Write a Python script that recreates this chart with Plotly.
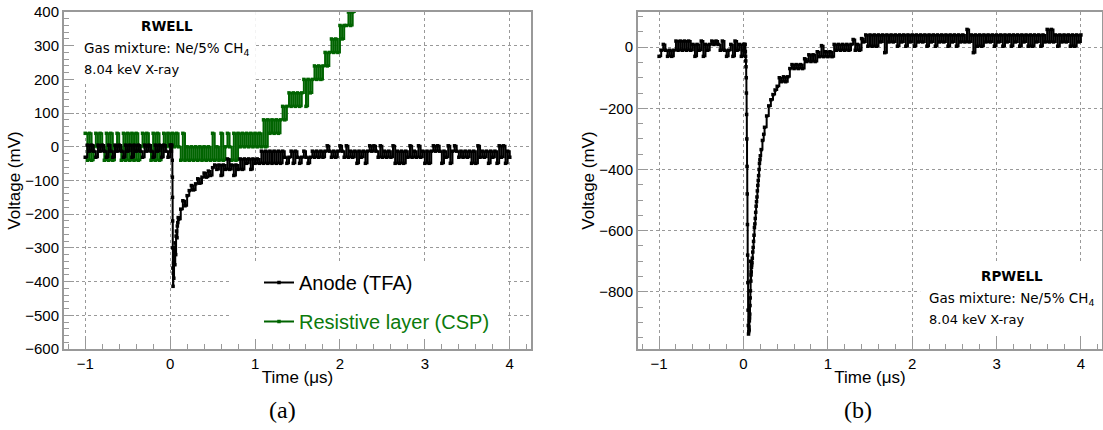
import plotly.graph_objects as go

# ---------------- data ----------------
# oscilloscope time base (µs), one sample every 25 ns shown
t_grid = [
    -1.0, -0.975, -0.95, -0.925, -0.9, -0.875, -0.85, -0.825, -0.8, -0.775,
    -0.75, -0.725, -0.7, -0.675, -0.65, -0.625, -0.6, -0.575, -0.55, -0.525,
    -0.5, -0.475, -0.45, -0.425, -0.4, -0.375, -0.35, -0.325, -0.3, -0.275,
    -0.25, -0.225, -0.2, -0.175, -0.15, -0.125, -0.1, -0.075, -0.05, -0.025,
    0.0, 0.025, 0.05, 0.075, 0.1, 0.125, 0.15, 0.175, 0.2, 0.225,
    0.25, 0.275, 0.3, 0.325, 0.35, 0.375, 0.4, 0.425, 0.45, 0.475,
    0.5, 0.525, 0.55, 0.575, 0.6, 0.625, 0.65, 0.675, 0.7, 0.725,
    0.75, 0.775, 0.8, 0.825, 0.85, 0.875, 0.9, 0.925, 0.95, 0.975,
    1.0, 1.025, 1.05, 1.075, 1.1, 1.125, 1.15, 1.175, 1.2, 1.225,
    1.25, 1.275, 1.3, 1.325, 1.35, 1.375, 1.4, 1.425, 1.45, 1.475,
    1.5, 1.525, 1.55, 1.575, 1.6, 1.625, 1.65, 1.675, 1.7, 1.725,
    1.75, 1.775, 1.8, 1.825, 1.85, 1.875, 1.9, 1.925, 1.95, 1.975,
    2.0, 2.025, 2.05, 2.075, 2.1, 2.125, 2.15, 2.175, 2.2, 2.225,
    2.25, 2.275, 2.3, 2.325, 2.35, 2.375, 2.4, 2.425, 2.45, 2.475,
    2.5, 2.525, 2.55, 2.575, 2.6, 2.625, 2.65, 2.675, 2.7, 2.725,
    2.75, 2.775, 2.8, 2.825, 2.85, 2.875, 2.9, 2.925, 2.95, 2.975,
    3.0, 3.025, 3.05, 3.075, 3.1, 3.125, 3.15, 3.175, 3.2, 3.225,
    3.25, 3.275, 3.3, 3.325, 3.35, 3.375, 3.4, 3.425, 3.45, 3.475,
    3.5, 3.525, 3.55, 3.575, 3.6, 3.625, 3.65, 3.675, 3.7, 3.725,
    3.75, 3.775, 3.8, 3.825, 3.85, 3.875, 3.9, 3.925, 3.95, 3.975,
    4.0,
]

# (a) RWELL - anode (TFA) voltage, mV, on t_grid
anode_a_v = [
    -31, 5, -13, 5, -13, -31, 5, -13, 5, -13,
    -31, 5, -13, -31, 5, -13, 5, -13, -31, 5,
    -13, 5, -31, 5, -13, 5, -13, -31, 5, -13,
    5, -13, -31, 5, -13, 5, -31, 5, -13, -31,
    5, -40, -300, -250, -215, -185, -160, -175, -145, -130,
    -115, -128, -110, -95, -108, -90, -78, -90, -72, -85,
    -62, -54, -67, -54, -85, -54, -67, -36, -67, -54,
    -85, -54, -67, -36, -67, -36, -49, -36, -67, -36,
    -49, -36, -49, -13, -49, -13, -49, -13, -49, -13,
    -49, -13, -49, -13, -31, -49, -31, -13, -49, -13,
    -31, -49, -31, -13, -31, -49, -31, -13, -31, -13,
    -31, -13, -31, -13, 3, -13, -31, -13, -31, -13,
    3, -13, -31, 3, -31, -13, -31, -13, -49, -13,
    -31, -13, -49, -13, 3, -13, 3, -13, -31, 3,
    -31, -13, -31, -13, -31, 3, -49, -13, -49, -13,
    -49, -13, -31, 3, -31, -13, -31, 3, -31, -13,
    -49, -13, -49, -13, 3, -13, 3, -13, -49, -13,
    -31, 3, -49, -13, 3, -13, -31, -13, -31, -13,
    -31, -13, -49, -13, -49, 3, -31, -13, -31, -13,
    -49, -13, -31, -13, -49, 3, -31, 3, -49, -13,
    -31,
]
# (a) extra samples around the fast anode pulse
anode_a_peak_t = [0.005, 0.01, 0.015, 0.02, 0.0265, 0.028, 0.0295, 0.031, 0.0325,
                  0.034, 0.037, 0.04, 0.043, 0.046, 0.055, 0.06, 0.065, 0.07,
                  0.08, 0.085, 0.09, 0.095]
anode_a_peak_v = [-13, 5, -13, 5, -90, -150, -220, -300, -360,
                  -414, -375, -345, -390, -330, -350, -285, -320, -265,
                  -270, -235, -225, -210]

# (a) RWELL - resistive layer (CSP) voltage, mV, on t_grid up to 2.175 µs
resist_a_v = [
    40, -40, 40, -40, 0, 40, 0, 40, 0, -40,
    40, -40, 40, -40, 0, 40, 0, -40, 40, -40,
    40, -40, 40, -40, 40, -40, 0, 40, 0, 40,
    0, -40, 40, -40, 40, -40, 0, 40, 0, 40,
    0, 40, 0, 40, 0, -40, 40, -40, 0, -40,
    0, -40, 0, -40, 0, -40, 0, -40, 0, -40,
    40, -40, 0, -40, 40, -40, 0, 40, 0, -40,
    40, -40, 40, 0, 40, 0, 40, 0, 40, 0,
    40, 0, 40, 0, 80, 0, 80, 40, 80, 40,
    80, 40, 80, 120, 80, 120, 160, 120, 160, 120,
    160, 120, 160, 200, 120, 200, 160, 200, 240, 200,
    240, 200, 240, 280, 240, 280, 320, 280, 320, 280,
    360, 320, 360, 360, 400, 360, 400, 440,
]

# (b) RPWELL - anode voltage, mV, on t_grid
anode_b_v = [
    -30, -10, 9, -10, -30, -10, -30, -10, 20, -10,
    20, -10, 20, -10, 20, -10, 9, -30, 9, -10,
    20, -30, 9, -10, 9, 20, 9, 20, 9, -10,
    20, -10, -30, -10, 9, -30, 20, -10, 9, -30,
    9, -30, -680, -873, -705, -615, -520, -436, -355, -305,
    -262, -225, -192, -172, -155, -140, -128, -100, -113, -97,
    -113, -97, -70, -57, -70, -57, -70, -57, -70, -38,
    -47, -25, -47, -25, -47, -15, -31, 5, -31, -15,
    -31, -15, -31, 9, -10, 9, -10, 9, -10, 9,
    -10, 9, 25, -10, 9, -10, 28, 17, 40, 3,
    40, 3, 40, 3, 40, 17, 40, -18, 40, 17,
    40, 17, 40, 3, 40, 17, 40, 3, 40, 17,
    40, 3, 40, 17, 40, 17, 40, 3, 40, 17,
    40, 3, 40, 17, 40, 17, 40, 3, 40, 17,
    40, 3, 40, 17, 40, 17, 58, 17, 40, -18,
    40, 3, 40, 3, 40, 17, 40, 17, 40, 3,
    40, 17, 40, 3, 40, 17, 40, 3, 40, 17,
    40, 3, 40, 17, 40, 3, 40, 3, 40, 17,
    40, 3, 40, 17, 58, 17, 58, 17, 40, 3,
    40, 17, 40, 17, 40, 3, 40, 3, 40, 17,
    40,
]
# (b) extra samples around the fast anode pulse
anode_b_peak_t = [0.005, 0.01, 0.015, 0.02,
                  0.0225, 0.0275, 0.03, 0.0325, 0.035, 0.0375, 0.04, 0.0425, 0.045, 0.0475,
                  0.0525, 0.055, 0.0575, 0.06, 0.0625, 0.065, 0.0675, 0.07, 0.0725,
                  0.0775, 0.08, 0.0825, 0.085, 0.0875, 0.09, 0.0925, 0.095, 0.0975,
                  0.105, 0.11, 0.115, 0.12, 0.13, 0.135, 0.14, 0.145,
                  0.155, 0.16, 0.165, 0.17, 0.18, 0.185, 0.19, 0.195, 0.21, 0.24]
anode_b_peak_v = [-10, 9, -10, 9,
                  -15, -45, -64, -100, -150, -220, -300, -390, -480, -580,
                  -770, -860, -910, -938, -930, -915, -925, -895, -885,
                  -845, -820, -797, -700, -765, -745, -735, -720, -712,
                  -690, -670, -655, -635, -590, -578, -560, -540,
                  -505, -490, -470, -452, -420, -400, -380, -368, -335, -285]

x_ticks = [-1, 0, 1, 2, 3, 4]


def merge(t1, v1, t2, v2):
    pts = sorted(zip(list(t1) + list(t2), list(v1) + list(v2)))
    return [p[0] for p in pts], [p[1] for p in pts]


ta, va = merge(t_grid, anode_a_v, anode_a_peak_t, anode_a_peak_v)
tb, vb = merge(t_grid, anode_b_v, anode_b_peak_t, anode_b_peak_v)
tg, vg = t_grid[:len(resist_a_v)], resist_a_v

# ---------------- figure ----------------
W, H = 1103, 430
GREEN = '#006400'
AX = '#999999'
SANS = 'Liberation Sans, Arial, sans-serif'
DJV = 'DejaVu Sans, sans-serif'
LW, MS = 2, 3.5


def px(x):
    return x / W


def py(y):
    return (H - y) / H


def trace(x, y, color, xa, ya, **kw):
    return go.Scatter(
        x=x, y=y, mode='lines+markers', xaxis=xa, yaxis=ya,
        line=dict(color=color, width=LW, shape='hv'),
        marker=dict(symbol='square', size=MS, color=color, line=dict(width=0)),
        hoverinfo='skip', **kw)


fig = go.Figure()
fig.add_trace(trace(tg, vg, GREEN, 'x', 'y',
                    name="<span style='color:#0b7a0b'>Resistive layer (CSP)</span>",
                    legendgroup='csp', legendrank=2))
fig.add_trace(trace(ta, va, 'black', 'x', 'y',
                    name='Anode (TFA)', legendgroup='tfa', legendrank=1))
fig.add_trace(trace(tb, vb, 'black', 'x2', 'y2', name='Anode', showlegend=False))

common = dict(
    showline=True, linecolor=AX, linewidth=2, mirror=True, automargin=False,
    ticks='inside', ticklen=10, tickwidth=1, tickcolor=AX,
    showgrid=True, gridcolor='#999999', griddash='dot', gridwidth=1,
    zeroline=False, tickfont=dict(family=SANS, size=15, color='black'),
)
xcommon = dict(common, range=[-1.25, 4.25], tickvals=x_ticks,
               minor=dict(ticks='inside', ticklen=5, tickcolor=AX, dtick=0.2, tick0=0, showgrid=False),
               title=dict(text='Time (μs)', font=dict(family=SANS, size=17, color='black'), standoff=0))
ytitle = dict(text='Voltage (mV)', font=dict(family=SANS, size=17, color='black'), standoff=0)

ydom = [py(349), py(12)]
fig.update_layout(
    width=W, height=H, margin=dict(l=0, r=0, t=0, b=0, autoexpand=False),
    paper_bgcolor='white', plot_bgcolor='white',
    xaxis=dict(xcommon, domain=[px(64), px(531)], anchor='y'),
    xaxis2=dict(xcommon, domain=[px(638), px(1102)], anchor='y2'),
    yaxis=dict(common, domain=ydom, anchor='x', range=[-600, 400], dtick=100, tick0=0,
               minor=dict(ticks='inside', ticklen=5, tickcolor=AX, dtick=20, tick0=0, showgrid=False),
               title=ytitle),
    yaxis2=dict(common, domain=ydom, anchor='x2', range=[-987, 115], dtick=200, tick0=0,
                minor=dict(ticks='inside', ticklen=5, tickcolor=AX, dtick=50, tick0=0, showgrid=False),
                title=ytitle),
    showlegend=True,
    legend=dict(x=px(259), y=py(263), xanchor='left', yanchor='top',
                bgcolor='rgba(255,255,255,0)', borderwidth=0,
                font=dict(family=SANS, size=20, color='black'),
                tracegroupgap=10),
    shapes=[
        dict(type='rect', xref='x', yref='y', x0=-1.25, x1=1.01, y0=188, y1=400,
             fillcolor='white', line=dict(width=0), layer='between'),
        dict(type='rect', xref='x', yref='y', x0=0.706, x1=3.976, y0=-600, y1=-348,
             fillcolor='white', line=dict(width=0), layer='between'),
        dict(type='rect', xref='x2', yref='y2', x0=2.095, x1=4.25, y0=-938, y1=-708,
             fillcolor='white', line=dict(width=0), layer='between'),
    ],
    annotations=[
        dict(text='<b>RWELL</b>', x=px(167), y=py(26), xref='paper', yref='paper',
             xanchor='center', yanchor='middle', showarrow=False, font=dict(family=DJV, size=13.5, color='black')),
        dict(text='Gas mixture: Ne/5% CH<sub>4</sub>', x=px(82), y=py(49), xref='paper', yref='paper',
             xanchor='left', yanchor='middle', showarrow=False, font=dict(family=DJV, size=13.5, color='black')),
        dict(text='8.04 keV X-ray', x=px(82), y=py(70), xref='paper', yref='paper',
             xanchor='left', yanchor='middle', showarrow=False, font=dict(family=DJV, size=13, color='black')),
        dict(text='<b>RPWELL</b>', x=px(1012), y=py(276), xref='paper', yref='paper',
             xanchor='center', yanchor='middle', showarrow=False, font=dict(family=DJV, size=13.5, color='black')),
        dict(text='Gas mixture: Ne/5% CH<sub>4</sub>', x=px(927), y=py(299), xref='paper', yref='paper',
             xanchor='left', yanchor='middle', showarrow=False, font=dict(family=DJV, size=13.5, color='black')),
        dict(text='8.04 keV X-ray', x=px(927), y=py(319), xref='paper', yref='paper',
             xanchor='left', yanchor='middle', showarrow=False, font=dict(family=DJV, size=13, color='black')),
        dict(text='(a)', x=px(282.5), y=py(410), xref='paper', yref='paper',
             xanchor='center', yanchor='middle', showarrow=False,
             font=dict(family='Liberation Serif, Times New Roman, serif', size=24, color='black')),
        dict(text='(b)', x=px(857.5), y=py(410), xref='paper', yref='paper',
             xanchor='center', yanchor='middle', showarrow=False,
             font=dict(family='Liberation Serif, Times New Roman, serif', size=24, color='black')),
    ],
)

fig.write_html('out.html')
